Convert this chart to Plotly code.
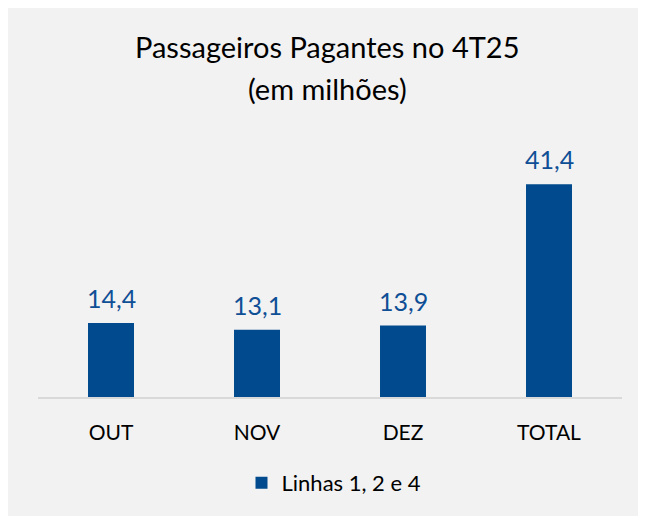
import plotly.graph_objects as go

categories = ["OUT", "NOV", "DEZ", "TOTAL"]
values = [14.4, 13.1, 13.9, 41.4]
value_labels = ["14,4", "13,1", "13,9", "41,4"]
series_name = "Linhas 1, 2 e 4"
title_line1 = "Passageiros Pagantes no 4T25"
title_line2 = "(em milhões)"

BAR = "#004a8d"
LABEL = "#0f4f96"
BG = "#f2f2f2"
FONT = "Lato, 'Open Sans', sans-serif"

W, H = 646, 516
OFF = 8  # page body margin
L, R, T, B = 30, 32, 132, 127
pw, ph = W - L - R, H - T - B

def px_x(x):
    return (x - OFF - L) / pw

def px_y(y):
    return (H - B - (y - OFF)) / ph

fig = go.Figure()
fig.add_trace(go.Bar(
    x=categories, y=values, name=series_name,
    marker=dict(color=BAR, line=dict(width=0)),
    showlegend=True,
))

for c, v, t in zip(categories, values, value_labels):
    fig.add_annotation(x=c, y=v, text=t, showarrow=False, yanchor="bottom",
                       yshift=8, font=dict(size=25, color=LABEL, family=FONT))

fig.add_annotation(xref="paper", yref="paper", x=px_x(327), y=px_y(47),
                   text=title_line1, showarrow=False, xanchor="center", yanchor="middle",
                   font=dict(size=29, color="#000000", family=FONT))
fig.add_annotation(xref="paper", yref="paper", x=px_x(327), y=px_y(88),
                   text=title_line2, showarrow=False, xanchor="center", yanchor="middle",
                   font=dict(size=29, color="#000000", family=FONT))

fig.update_layout(
    width=W, height=H,
    margin=dict(l=L, r=R, t=T, b=B, autoexpand=False),
    paper_bgcolor=BG, plot_bgcolor=BG,
    bargap=0.685,
    font=dict(family=FONT, color="#000000"),
    xaxis=dict(showline=True, linecolor="#d9d9d9", linewidth=1.5, ticks="",
               ticklabelstandoff=16,
               tickfont=dict(size=21, color="#000000"), showgrid=False, automargin=False),
    yaxis=dict(range=[0, 50], visible=False, showgrid=False, zeroline=False),
    legend=dict(orientation="h", x=px_x(334), xanchor="center", y=px_y(483), yanchor="middle",
                font=dict(size=22, color="#000000"), bgcolor="rgba(0,0,0,0)",
                itemwidth=30),
)

fig.write_html("out.html")
